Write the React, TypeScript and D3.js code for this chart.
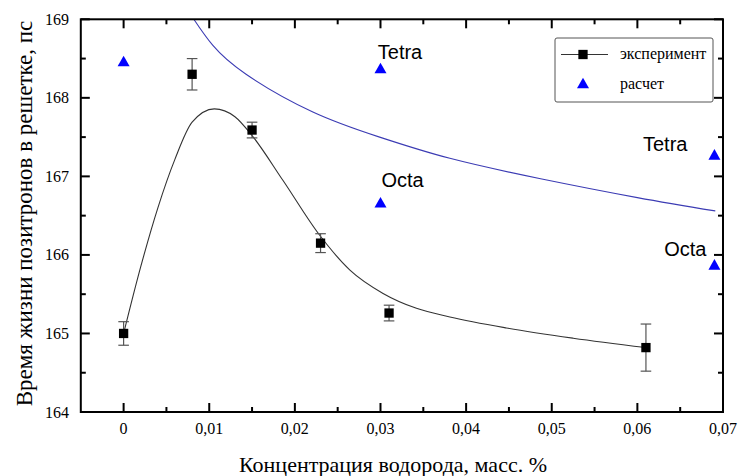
import React from 'react';
import * as d3 from 'd3';

// ---- data ----
const expX = [0, 0.008, 0.015, 0.023, 0.031, 0.061];
const expY = [165.0, 168.3, 167.59, 166.15, 165.26, 164.82];
const expErr = [0.15, 0.2, 0.1, 0.12, 0.1, 0.3];

const calcX = [0, 0.03, 0.03, 0.069, 0.069];
const calcY = [168.47, 168.38, 166.67, 167.28, 165.88];

const fitX = [0, 0.002, 0.004, 0.006, 0.008, 0.0106, 0.013, 0.015, 0.0186, 0.0229, 0.0264, 0.0303, 0.0342, 0.0381, 0.0447, 0.0525, 0.061];
const fitY = [165.0, 165.85, 166.6, 167.22, 167.69, 167.86, 167.76, 167.52, 166.95, 166.25, 165.81, 165.51, 165.32, 165.21, 165.07, 164.94, 164.82];

// calculated curve (blue)
const calcCurveX = [0.0082, 0.0104, 0.0143, 0.0221, 0.0299, 0.0381, 0.0487, 0.06, 0.0691];
const calcCurveY = [169.0, 168.67, 168.3, 167.82, 167.5, 167.23, 166.97, 166.73, 166.56];

const annotLabels = ['Tetra', 'Octa', 'Tetra', 'Octa'];
const annotPoint = [1, 2, 3, 4];

const xMajorTicks = [0, 0.01, 0.02, 0.03, 0.04, 0.05, 0.06, 0.07];
const xTickLabels = ['0', '0,01', '0,02', '0,03', '0,04', '0,05', '0,06', '0,07'];
const xMinorTicks = [0.005, 0.015, 0.025, 0.035, 0.045, 0.055, 0.065];
const yMajorTicks = [164, 165, 166, 167, 168, 169];
const yTickLabels = ['164', '165', '166', '167', '168', '169'];
const yMinorTicks = [164.5, 165.5, 166.5, 167.5, 168.5];

const xTitle = 'Концентрация водорода, масс. %';
const yTitle = 'Время жизни позитронов в решетке, пс';
const legendLabels = ['эксперимент', 'расчет'];

export default function App() {
  const W = 739, H = 476;
  const L = 80.8, R = 723, T = 19.3, B = 412;
  const x = d3.scaleLinear().domain([-0.005, 0.07]).range([L, R]);
  const y = d3.scaleLinear().domain([164, 169]).range([B, T]);

  const fitLine = d3.line<number>().x((d, i) => x(fitX[i])).y((d, i) => y(fitY[i])).curve(d3.curveMonotoneX);
  const calcLine = d3.line<number>().x((d, i) => x(calcCurveX[i])).y((d, i) => y(calcCurveY[i])).curve(d3.curveNatural);

  const serifStyle = { fontFamily: "'Liberation Serif', 'Times New Roman', Times, serif" };
  const sansStyle = { fontFamily: "'Liberation Sans', Arial, Helvetica, sans-serif" };
  const tri = (cx: number, cy: number, w = 12, h = 10.6) =>
    `M${cx},${cy - h / 2}L${cx + w / 2},${cy + h / 2}L${cx - w / 2},${cy + h / 2}Z`;
  const sq = 9.3;
  const MJ = 9, MN = 5;

  const annotOffsets = [
    { dx: -2.7, dy: -9, anchor: 'start' },
    { dx: 1, dy: -15.3, anchor: 'start' },
    { dx: -27, dy: -3.8, anchor: 'end' },
    { dx: -8, dy: -8.7, anchor: 'end' },
  ];

  return (
    <svg width={W} height={H} style={{ position: 'absolute', left: 0, top: 0, background: '#fff' }}>
      <defs>
        <clipPath id="plotclip">
          <rect x={L} y={T} width={R - L} height={B - T} />
        </clipPath>
      </defs>

      {/* curves */}
      <g clipPath="url(#plotclip)">
        <path d={calcLine(calcCurveX) || ''} fill="none" stroke="#3c3cb4" strokeWidth={1.1} />
        <path d={fitLine(fitX) || ''} fill="none" stroke="#333" strokeWidth={1.1} />
      </g>

      {/* error bars */}
      {expX.map((v, i) => {
        const cx = x(v);
        const y1 = y(expY[i] + expErr[i]);
        const y2 = y(expY[i] - expErr[i]);
        return (
          <g key={'e' + i} stroke="#555" strokeWidth={1.2}>
            <line x1={cx} x2={cx} y1={y1} y2={y2} />
            <line x1={cx - 5.3} x2={cx + 5.3} y1={y1} y2={y1} />
            <line x1={cx - 5.3} x2={cx + 5.3} y1={y2} y2={y2} />
          </g>
        );
      })}
      {/* squares */}
      {expX.map((v, i) => (
        <rect key={'s' + i} x={x(v) - sq / 2} y={y(expY[i]) - sq / 2} width={sq} height={sq} fill="#000" />
      ))}
      {/* triangles */}
      {calcX.map((v, i) => (
        <path key={'t' + i} d={tri(x(v), y(calcY[i]))} fill="#0000ff" />
      ))}
      {/* annotations */}
      {annotLabels.map((lab, i) => {
        const p = annotPoint[i];
        const o = annotOffsets[i];
        return (
          <text key={'a' + i} x={x(calcX[p]) + o.dx} y={y(calcY[p]) + o.dy} textAnchor={o.anchor as any}
            style={sansStyle} fontSize={20} fill="#000">{lab}</text>
        );
      })}

      {/* frame */}
      <rect x={L} y={T} width={R - L} height={B - T} fill="none" stroke="#000" strokeWidth={2} />
      {/* x ticks */}
      {xMajorTicks.map((v, i) => (
        <g key={'xm' + i} stroke="#000" strokeWidth={2}>
          <line x1={x(v)} x2={x(v)} y1={B} y2={B - MJ} />
          <line x1={x(v)} x2={x(v)} y1={T} y2={T + MJ} />
        </g>
      ))}
      {xMinorTicks.map((v, i) => (
        <g key={'xn' + i} stroke="#000" strokeWidth={2}>
          <line x1={x(v)} x2={x(v)} y1={B} y2={B - MN} />
          <line x1={x(v)} x2={x(v)} y1={T} y2={T + MN} />
        </g>
      ))}
      {yMajorTicks.map((v, i) => (
        <g key={'ym' + i} stroke="#000" strokeWidth={2}>
          <line x1={L} x2={L + MJ} y1={y(v)} y2={y(v)} />
          <line x1={R} x2={R - MJ} y1={y(v)} y2={y(v)} />
        </g>
      ))}
      {yMinorTicks.map((v, i) => (
        <g key={'yn' + i} stroke="#000" strokeWidth={2}>
          <line x1={L} x2={L + MN} y1={y(v)} y2={y(v)} />
          <line x1={R} x2={R - MN} y1={y(v)} y2={y(v)} />
        </g>
      ))}
      {/* tick labels */}
      {xMajorTicks.map((v, i) => (
        <text key={'xl' + i} x={x(v)} y={434} textAnchor="middle" style={serifStyle} fontSize={16} fill="#000">{xTickLabels[i]}</text>
      ))}
      {yMajorTicks.map((v, i) => (
        <text key={'yl' + i} x={69} y={y(v) + 5.5} textAnchor="end" style={serifStyle} fontSize={16} fill="#000">{yTickLabels[i]}</text>
      ))}
      {/* axis titles */}
      <text x={393} y={472} textAnchor="middle" style={serifStyle} fontSize={22} fill="#000">{xTitle}</text>
      <text transform={`translate(32,${213.5}) rotate(-90)`} textAnchor="middle" style={serifStyle} fontSize={23} fill="#000">{yTitle}</text>

      {/* legend */}
      <rect x={555} y={38} width={158} height={64} rx={2} fill="#fff" stroke="#555" strokeWidth={1} />
      <line x1={561} x2={608} y1={54.5} y2={54.5} stroke="#333" strokeWidth={1.1} />
      <rect x={583 - sq / 2} y={54.5 - sq / 2} width={sq} height={sq} fill="#000" />
      <text x={620} y={59} style={serifStyle} fontSize={16} fill="#000">{legendLabels[0]}</text>
      <path d={tri(583, 83)} fill="#0000ff" />
      <text x={620} y={88.5} style={serifStyle} fontSize={16} fill="#000">{legendLabels[1]}</text>
    </svg>
  );
}
